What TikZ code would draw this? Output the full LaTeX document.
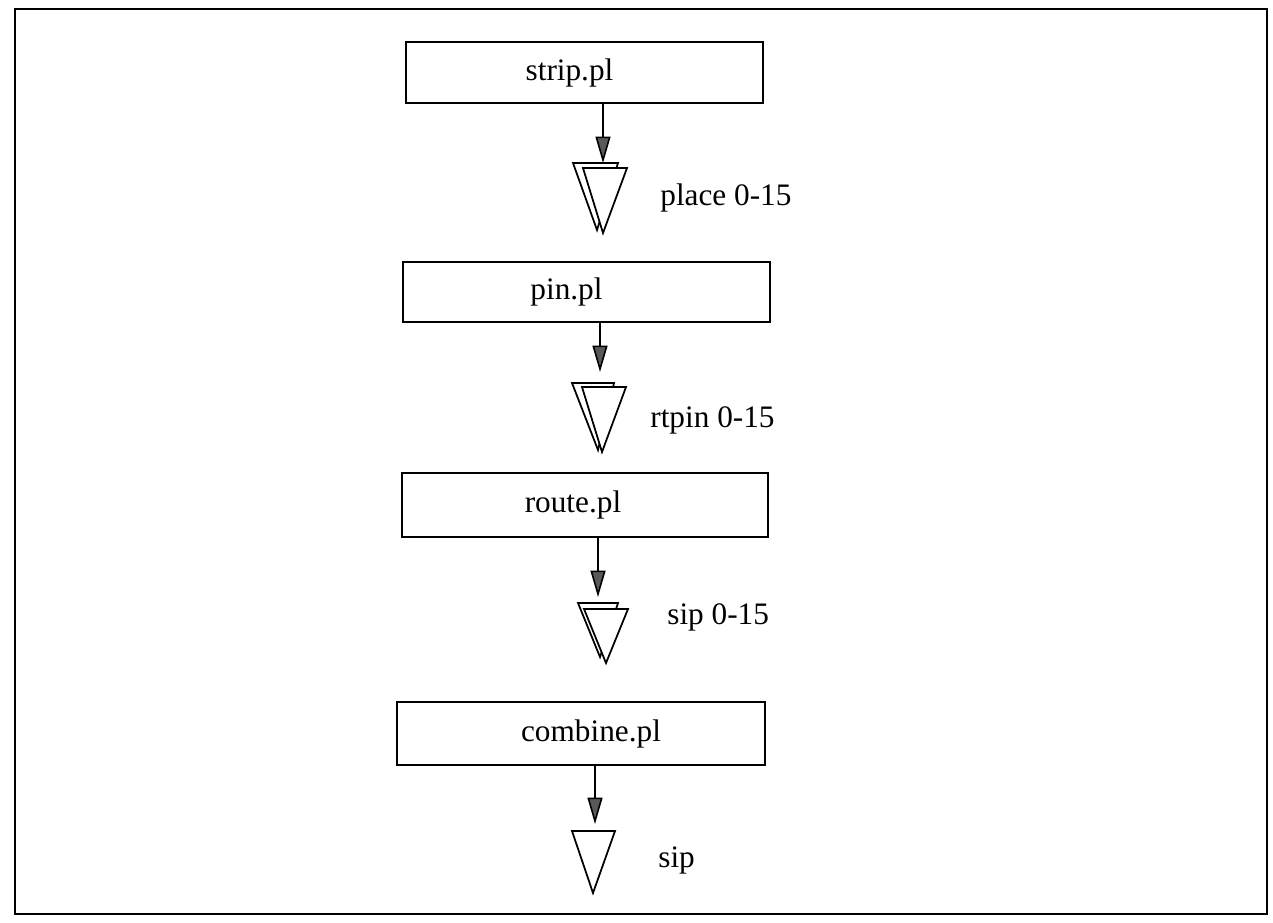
\documentclass[tikz,border=0pt]{standalone}
\usepackage{fontspec}
\setmainfont{Liberation Serif}
\usetikzlibrary{arrows.meta}
\begin{document}
\begin{tikzpicture}[x=0.02cm,y=-0.02cm,
  txt/.style={font=\fontsize{17.8}{20}\selectfont},
  proc/.style={draw, line width=1.1pt, inner sep=0pt},
  flow/.style={draw, line width=0.9pt, -{Triangle[length=15pt,width=8.5pt,fill=black!65]}},
  tri/.style={draw, line width=1pt, fill=white, line join=miter},
  lbl/.style={txt, anchor=west, inner sep=0pt}]
\useasboundingbox (0,0) rectangle (1273,922);
\draw[line width=1.4pt] (15,9) rectangle (1267,914);

% boxes
\node[proc, minimum width=7.14cm, minimum height=1.22cm,
  label={[txt, xshift=-0.30cm]center:strip.pl}] (strip) at (584.5,72.5) {};
\node[proc, minimum width=7.34cm, minimum height=1.20cm,
  label={[txt, xshift=-0.40cm]center:pin.pl}] (pin) at (586.5,292) {};
\node[proc, minimum width=7.32cm, minimum height=1.28cm,
  label={[txt, xshift=-0.24cm]center:route.pl}] (route) at (585,505) {};
\node[proc, minimum width=7.36cm, minimum height=1.26cm,
  label={[txt, xshift=0.20cm]center:combine.pl}] (combine) at (581,733.5) {};

% file stacks
\draw[tri] (573,163) -- (618,163) -- (597,230) -- cycle;
\draw[tri] (583,168) -- (627,168) -- (603,233) -- cycle;
\coordinate (t1) at (603,163);
\draw[tri] (572,383) -- (614,383) -- (598,450) -- cycle;
\draw[tri] (582,387) -- (626,387) -- (602,452) -- cycle;
\coordinate (t2) at (600,372);
\draw[tri] (578,603) -- (618,603) -- (600,657) -- cycle;
\draw[tri] (584,609) -- (628,609) -- (606,663) -- cycle;
\coordinate (t3) at (598,597);
\draw[tri] (572,831) -- (615,831) -- (593,893) -- cycle;
\coordinate (t4) at (595,824);

% connectors
\draw[flow] (strip.south -| t1) -- (t1);
\draw[flow] (pin.south -| t2) -- (t2);
\draw[flow] (route.south -| t3) -- (t3);
\draw[flow] (combine.south -| t4) -- (t4);

% labels
\node[lbl] (l1) at (660,198) {place 0-15};
\node[lbl] (l2) at (650,420) {rtpin 0-15};
\node[lbl] (l3) at (667,617) {sip 0-15};
\node[lbl] (l4) at (658,860) {sip};
\end{tikzpicture}
\end{document}
